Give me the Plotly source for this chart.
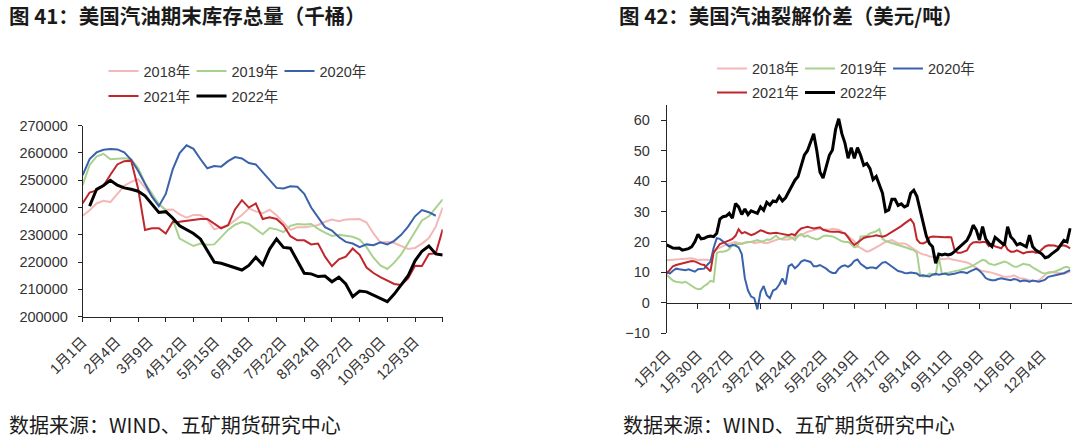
import plotly.graph_objects as go

# ---------------- data: left panel (weekly gasoline stocks, thousand barrels) ----------------
inv_week_days = 7  # one point per week; x axis in day-of-year
inv_labels = ["1月1日", "2月4日", "3月9日", "4月12日", "5月15日", "6月18日",
              "7月22日", "8月24日", "9月27日", "10月30日", "12月3日"]
inv_label_days = [0, 34, 67, 101, 134, 168, 202, 235, 269, 302, 336]
inv_minor_days = [0, 28, 56, 84, 112, 140, 168, 196, 224, 252, 280, 308, 336, 364]

inv_2018 = [237000, 239000, 241500, 242500, 242000, 245000, 248000, 249400, 250400, 247300,
            244400, 241300, 239200, 239300, 237500, 236300, 237300, 237300, 235500, 232000,
            232800, 233500, 235300, 237300, 239700, 238600, 237900, 239200, 237200, 234300,
            231800, 232800, 232800, 233100, 233600, 234800, 235600, 235000, 235600, 235700,
            235800, 234500, 230500, 227200, 227400, 227000, 225900, 224800, 225200, 226800,
            228800, 233000, 240000]
inv_2019 = [248300, 255600, 258700, 259700, 257700, 257800, 258100, 257700, 254500, 249000,
            245000, 241200, 239000, 235700, 228600, 227400, 225900, 226800, 226400, 226500,
            229300, 231800, 233700, 234700, 234000, 232000, 230200, 232500, 232000, 231000,
            233300, 234000, 233800, 234000, 232200, 230800, 229600, 230000, 229700, 229300,
            228300, 225500, 221600, 218800, 217500, 219800, 222800, 227000, 231500, 235300,
            236800, 240000, 243000]
inv_2020 = [251900, 257800, 260200, 261200, 261500, 261300, 260200, 257500, 253500, 248800,
            244000, 240500, 245000, 254000, 260000, 262800, 261500, 257800, 254400, 255200,
            255000, 257000, 258500, 258000, 256300, 255800, 253000, 249800, 247200, 247000,
            247800, 247600, 245000, 240000, 236300, 232800, 231600, 229200, 227400, 226800,
            225500, 226500, 226200, 227300, 226500, 227800, 230000, 233000, 236800, 239100,
            238300, 237000]
inv_2021 = [241600, 245500, 246300, 248000, 252000, 255800, 257000, 257200, 247000, 231800,
            232400, 232400, 230500, 234700, 234800, 235200, 235500, 235800, 235800, 234100,
            232400, 233500, 239300, 242700, 240000, 241500, 235800, 236400, 235800, 233500,
            229500, 228000, 228000, 226500, 226800, 222000, 218500, 221000, 222000, 225000,
            222700, 218000, 216000, 214500, 213100, 212000, 211600, 214000, 218700, 218600,
            223000, 223200, 232000]
inv_2022 = [None, 240500, 246700, 248100, 250000, 248200, 247200, 246700, 246000, 244300,
            241200, 238200, 238500, 236200, 233300, 232000, 230500, 228500, 224500, 220000,
            219600, 218800, 217800, 217100, 218800, 221800, 219000, 224800, 228500, 225400,
            225100, 220500, 215900, 215700, 214700, 214900, 212800, 214500, 212000, 207300,
            209400, 209100, 208000, 206800, 205500, 208300, 211500, 215000, 220500, 224000,
            225900, 223000, 222600]

# ---------------- data: right panel (daily gasoline crack, USD/t), every 2nd trading day ----------------
crack_step = 2
crack_labels = ["1月2日", "1月30日", "2月27日", "3月27日", "4月24日", "5月22日", "6月19日",
                "7月17日", "8月14日", "9月11日", "10月9日", "11月6日", "12月4日"]
crack_label_idx = [0, 20, 40, 60, 80, 100, 120, 140, 160, 180, 200, 220, 240]

crack_2018 = [14, 14.1, 14.2, 14.2, 14.2, 14.3, 14.5, 14.6, 14.6, 14.4,
              14, 14.1, 14.2, 14.1, 14, 16.5, 17.6, 18.2, 18.6, 19,
              19.3, 19.6, 20, 19.6, 19.5, 19.7, 19.9, 20, 19.6, 19.7,
              20, 19.7, 19.6, 19.9, 20.3, 20.6, 21, 20.8, 20.7, 20.8,
              21.2, 21.7, 22, 22.2, 22.8, 23.3, 23.6, 23.9, 24.1, 24.4,
              24.2, 24, 24, 24.3, 24.2, 24, 23.5, 22.8, 22, 21,
              20.2, 18.6, 18, 17.3, 16.8, 17.1, 17.6, 18.3, 18.8, 19.4,
              20, 20.3, 20.6, 20.1, 19.5, 19.5, 19.5, 19, 18.2, 17.6,
              17, 16.3, 15.9, 15.7, 15.2, 15.1, 15.1, 14.6, 14.3, 14.4,
              14.6, 14.3, 14.1, 13.8, 13.6, 13.4, 13.2, 12.8, 12.1, 11.3,
              10.8, 10.4, 10.2, 10.2, 9.9, 9.5, 9.2, 8.8, 8.5, 8.5,
              8.6, 9, 8.5, 8, 8, 7.7, 7.4, 7.1, 7.1, 7.4,
              8.2, 9.2, 10, 10, 9.9, 9.6, 9.6, 9.6, 9.8, 10.2]
crack_2019 = [9.1, 8.1, 7.3, 6.9, 6.8, 6.6, 6.9, 6.2, 5.6, 4.9,
              4.4, 4.6, 5.5, 6.2, 7.2, 6.9, 16.3, 16.8, 16.8, 17,
              17.6, 19, 19.3, 19.4, 19.3, 19.7, 20, 20, 20.3, 20.6,
              20.2, 20.2, 20.8, 20.7, 21.3, 22.1, 21, 21, 21.7, 21.7,
              21.4, 20.6, 22, 22.6, 21.7, 22.1, 21.5, 21.1, 20.8, 21.2,
              21.9, 22.1, 22, 21.8, 21.3, 20.8, 20.2, 20, 20, 19.2,
              18.2, 18.5, 21.7, 21.9, 22, 22.8, 23.2, 23.5, 24.2, 21,
              20.3, 20, 19.7, 19.4, 19, 18.7, 18.4, 18, 17.6, 17.3,
              16.3, 9.5, 8.6, 8.8, 9.6, 9.3, 9.1, 15, 9.5, 9.6,
              9.8, 10, 10.3, 10.6, 10.8, 11.1, 11.4, 11.7, 12.2, 12.9,
              13.6, 14.1, 13.8, 12.9, 12.6, 12.4, 12.8, 13.2, 13.5, 13.2,
              12.6, 11.9, 11.8, 12.2, 12.8, 12.6, 12.4, 11.6, 11, 10.3,
              9.8, 9.6, 9.9, 10, 10.2, 10.5, 11, 11.6, 11.8, 11.3]
crack_2020 = [10.2, 9.6, 10.5, 11.2, 11, 10.8, 10.7, 11, 10.5, 10.2,
              11, 11, 11.2, 12.5, 13.5, 18, 21.2, 21, 20.2, 19.6,
              18.5, 19, 18.8, 18.2, 16, 8, 4, 2, 1.5, -2.2,
              3.5, 5.5, 2.5, 1.5, 4, 4.5, 6, 8, 6, 12,
              12.6, 11.3, 12.2, 13.5, 14, 13.7, 13.4, 12, 12, 12.4,
              11.8, 11.2, 10.3, 9.8, 9.8, 11.2, 12, 12.3, 11.8, 12.5,
              13.8, 14.2, 12.8, 12, 11.3, 11.6, 11.6, 11.3, 12.4, 13.2,
              13.4, 12.6, 11.8, 11, 10.4, 10.2, 9.8, 9.7, 9.9, 9.8,
              9.6, 8.8, 9, 8.8, 8.6, 9.2, 9.5, 9.2, 9.4, 9.6,
              9.2, 9.3, 9.5, 9.8, 10.1, 10, 9.7, 10.3, 10.8, 11.2,
              10.5, 9.5, 8.1, 7.6, 7.4, 7.4, 7.8, 8, 7.8, 7.6,
              7.4, 7.8, 7.6, 7, 7.3, 7.2, 6.9, 7.3, 7.2, 6.9,
              7.2, 7.6, 8.5, 8.7, 8.9, 9.1, 9.4, 9.7, 10.2, 10.7]
crack_2021 = [9.6, 11, 12, 12.4, 12.7, 13, 13.2, 13.5, 13.7, 13.6,
              13, 12.6, 12.4, 11.5, 10.3, 16.5, 18, 19.3, 19.7, 20,
              20.5, 21, 22, 24.2, 22.8, 23.2, 22.8, 22.2, 22.6, 23.2,
              23.8, 23.5, 23, 22.8, 23, 23, 22.8, 22.6, 22.5, 22.2,
              22.6, 22.2, 23.5, 24.4, 24.7, 25, 24.7, 24.4, 24.6, 24.8,
              24, 23.6, 23.4, 23.3, 23.3, 23.3, 23, 22.8, 21.5, 20,
              19, 19.8, 20.6, 21.3, 21.6, 21.7, 21.9, 22.2, 22, 21.7,
              22, 22.6, 23.3, 24, 24.6, 25.2, 26, 26.9, 27.5, 26,
              20.8, 19.6, 19.5, 20, 21.5, 21.8, 21.7, 21.6, 21.5, 21.5,
              21.6, 21.5, 17.5, 16.4, 16.4, 16.8, 17.2, 19, 19.8, 20,
              19.8, 20, 20, 18.6, 19.4, 18.5, 18.1, 17.9, 19.4, 17.5,
              16.8, 16.8, 17.2, 16.8, 16.2, 16.6, 16.8, 16.8, 16.4, 16.5,
              17.6, 18.5, 18.9, 18.9, 18.8, 18.4, 18.7, 18.9, 18.5, 17.9]
crack_2022 = [19, 18.4, 18.0, 17.9, 18.0, 17.3, 17.5, 17.8, 18.4, 20,
              22.5, 21, 21.2, 21.7, 21.9, 21.7, 22.8, 27.5, 28.3, 28.5,
              29.4, 27.8, 32.6, 31.5, 29, 30.8, 29, 30.2, 29.8, 29.4,
              31.5, 30.4, 33, 32.1, 33.5, 33.2, 35, 33.5, 34.5, 36.5,
              38.5, 40.3, 41.5, 45, 48.5, 50, 53, 55.6, 50, 43,
              41, 45, 48.5, 50.2, 57, 60.5, 55.6, 52.5, 47.5, 51,
              47.5, 51, 48.5, 45.2, 45.8, 44.1, 40.5, 41.5, 38.5, 36,
              30, 30.5, 34, 34, 32, 32.5, 31.5, 32, 36, 37,
              35, 30.4, 26, 22, 19.5, 18.4, 13, 16, 15.7, 16,
              15.7, 16, 16.8, 17.8, 18.5, 19.5, 20.5, 22.5, 25.5, 23.9,
              20.6, 25, 21, 19.5, 18.5, 21.5, 20.6, 19.5, 18.9, 25,
              21.7, 20.6, 19, 19.5, 19, 18.4, 22.2, 18.5, 17.3, 16.5,
              16, 14.8, 15.1, 16, 16.8, 17.5, 19, 20.5, 20, 24.5]
crack_total_days = 259

series_names = ["2018年", "2019年", "2020年", "2021年", "2022年"]
series_colors = ["#F4B8B8", "#A9D18E", "#3A62AC", "#C0272D", "#000000"]
series_widths = [2, 2, 2, 2, 3]

# ---------------- figure ----------------
W, H = 1080, 446
def px_x(p): return p / W
def px_y(p): return 1 - p / H

fig = go.Figure()

inv_series = [inv_2018, inv_2019, inv_2020, inv_2021, inv_2022]
for i, (name, vals) in enumerate(zip(series_names, inv_series)):
    fig.add_trace(go.Scatter(
        x=[k * inv_week_days for k in range(len(vals))], y=vals,
        mode="lines", name=name, xaxis="x", yaxis="y",
        line=dict(color=series_colors[i], width=series_widths[i]),
        legend="legend" if i < 3 else "legend2", connectgaps=False,
        hoverinfo="skip"))

crack_series = [crack_2018, crack_2019, crack_2020, crack_2021, crack_2022]
for i, (name, vals) in enumerate(zip(series_names, crack_series)):
    fig.add_trace(go.Scatter(
        x=[k * crack_step for k in range(len(vals))], y=vals,
        mode="lines", name=name, xaxis="x2", yaxis="y2",
        line=dict(color=series_colors[i], width=series_widths[i]),
        legend="legend3" if i < 3 else "legend4",
        hoverinfo="skip"))

# invisible traces to make the tick-only overlay axes exist
fig.add_trace(go.Scatter(x=[0], y=[None], xaxis="x3", yaxis="y", showlegend=False, hoverinfo="skip"))
fig.add_trace(go.Scatter(x=[0], y=[None], xaxis="x4", yaxis="y2", showlegend=False, hoverinfo="skip"))

axis_color = "#262626"
tick_font = dict(family="Liberation Sans, Noto Sans CJK SC", size=14.5, color="#333333")
xlab_font = dict(family="Liberation Sans, Noto Sans CJK SC", size=14.5, color="#333333")

L_dom_x = [px_x(82.7), px_x(442.7)]
L_dom_y = [px_y(316.7), px_y(125.7)]
R_dom_x = [px_x(666.7), px_x(1071.7)]
R_dom_y = [px_y(333.1), px_y(105.1)]
r_ymin, r_ymax = -10, 65
zero_pos = R_dom_y[0] + (0 - r_ymin) / (r_ymax - r_ymin) * (R_dom_y[1] - R_dom_y[0])

fig.update_layout(
    width=W, height=H, margin=dict(l=0, r=0, t=0, b=0, autoexpand=False),
    paper_bgcolor="white", plot_bgcolor="white",
    xaxis=dict(domain=L_dom_x, anchor="y", range=[0, 364], showgrid=False, zeroline=False,
               tickmode="array", tickvals=inv_label_days, ticktext=inv_labels,
               ticks="", tickangle=-45, tickfont=xlab_font, ticklabelstandoff=10,
               showline=True, linecolor=axis_color, linewidth=1, automargin=False),
    xaxis3=dict(domain=L_dom_x, anchor="y", overlaying="x", range=[0, 364],
                showgrid=False, zeroline=False, tickmode="array", tickvals=inv_minor_days,
                ticks="outside", ticklen=4, tickcolor=axis_color, showticklabels=False,
                showline=False, automargin=False),
    yaxis=dict(domain=L_dom_y, anchor="x", range=[200000, 270000], dtick=10000,
               tickformat="d", showgrid=False, zeroline=False, ticks="outside", ticklen=4,
               tickcolor=axis_color, showline=True, linecolor=axis_color, linewidth=1,
               tickfont=tick_font, ticklabelstandoff=7, automargin=False),
    xaxis2=dict(domain=R_dom_x, anchor="y2", range=[0, crack_total_days], showgrid=False,
                zeroline=False, tickmode="array", tickvals=crack_label_idx, ticktext=crack_labels,
                ticks="", tickangle=-45, tickfont=xlab_font, showline=False, ticklabelstandoff=10,
                automargin=False),
    xaxis4=dict(domain=R_dom_x, anchor="free", position=zero_pos, overlaying="x2",
                range=[0, crack_total_days], showgrid=False, zeroline=False,
                tickmode="array", tickvals=crack_label_idx, ticks="outside", ticklen=5,
                tickcolor=axis_color, showticklabels=False, showline=True,
                linecolor=axis_color, linewidth=1, automargin=False),
    yaxis2=dict(domain=R_dom_y, anchor="x2", range=[r_ymin, r_ymax],
                tickmode="array", tickvals=[-10, 0, 10, 20, 30, 40, 50, 60],
                showgrid=False, zeroline=False, ticks="outside", ticklen=5,
                tickcolor=axis_color, showline=True, linecolor=axis_color, linewidth=1,
                tickfont=tick_font, ticklabelstandoff=8, automargin=False),
    showlegend=True,
)

leg_common = dict(orientation="h", xanchor="left", yanchor="top", bgcolor="rgba(0,0,0,0)",
                  font=dict(family="Liberation Sans, Noto Sans CJK SC", size=14.5, color="#333333"),
                  entrywidth=43, entrywidthmode="pixels", itemwidth=30, tracegroupgap=0,
                  itemclick=False, itemdoubleclick=False)
fig.update_layout(
    legend=dict(leg_common, x=px_x(103.5), y=px_y(55)),
    legend2=dict(leg_common, x=px_x(103.5), y=px_y(80)),
    legend3=dict(leg_common, x=px_x(712), y=px_y(52.5)),
    legend4=dict(leg_common, x=px_x(712), y=px_y(76.5)),
)

title_font = dict(family="Noto Sans CJK SC", size=20.5, color="#1a1a1a")
foot_font = dict(family="Noto Sans CJK SC", size=20, color="#1a1a1a")
ann = [
    dict(text="<b>图 41：美国汽油期末库存总量（千桶）</b>", x=px_x(7), y=px_y(15), font=title_font),
    dict(text="<b>图 42：美国汽油裂解价差（美元/吨）</b>", x=px_x(617), y=px_y(15), font=title_font),
    dict(text="数据来源：WIND、五矿期货研究中心", x=px_x(7), y=px_y(424), font=foot_font),
    dict(text="数据来源：WIND、五矿期货研究中心", x=px_x(621), y=px_y(424), font=foot_font),
]
for a in ann:
    fig.add_annotation(xref="paper", yref="paper", xanchor="left", yanchor="middle",
                       showarrow=False, **a)

fig.write_html("out.html", config={"displayModeBar": False},
               post_script="document.body.style.margin='0';document.body.style.overflow='hidden';")
